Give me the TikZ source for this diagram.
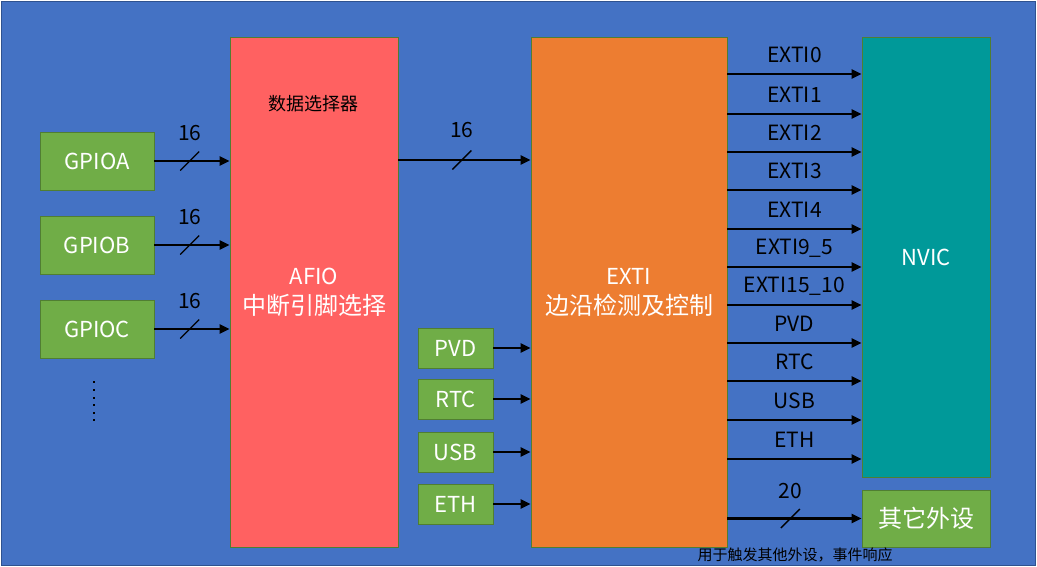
\documentclass[tikz,border=0pt]{standalone}
\usepackage{fontspec}
\setmainfont{Noto Sans CJK SC}
\usetikzlibrary{arrows.meta,calc}
\definecolor{bgblue}{HTML}{4472C4}
\definecolor{bgedge}{HTML}{2F528F}
\definecolor{boxgreen}{HTML}{70AD47}
\definecolor{edgegreen}{HTML}{507E32}
\definecolor{afiored}{HTML}{FF6161}
\definecolor{extiorange}{HTML}{ED7D31}
\definecolor{nvicteal}{HTML}{009999}
\newcommand{\fs}[1]{\fontsize{#1}{#1}\selectfont}
\begin{document}
\begin{tikzpicture}[x=1pt,y=-1pt,
  blk/.style={draw=edgegreen,line width=0.8pt,inner sep=0pt,text=white,align=center},
  gbox/.style={blk,fill=boxgreen,font=\fs{22}},
  arr/.style={line width=2.6pt,-{Triangle[length=10pt,width=9pt]},black},
  lab/.style={font=\fs{21},text=black,inner sep=0pt},
  slashline/.style={line width=1.4pt,black}]
\useasboundingbox (0,0) rectangle (1037,567);
\fill[bgblue,draw=bgedge,line width=1pt] (1.5,1.5) rectangle (1035.5,565.5);

% boxes
\node[gbox,minimum width=114pt,minimum height=58pt] (gA) at (97,161) {GPIOA};
\node[gbox,minimum width=114pt,minimum height=58pt] (gB) at (97,245) {GPIOB};
\node[gbox,minimum width=114pt,minimum height=58pt] (gC) at (97,329) {GPIOC};
\node[blk,fill=afiored,minimum width=168pt,minimum height=510pt,font=\fontsize{22}{30}\selectfont] (afio) at (314,292) {AFIO\\\fontsize{24}{30}\selectfont 中断引脚选择};
\node[blk,fill=extiorange,minimum width=196pt,minimum height=510pt,font=\fontsize{22}{30}\selectfont] (exti) at (629,292) {EXTI\\\fontsize{24}{30}\selectfont 边沿检测及控制};
\node[blk,fill=nvicteal,minimum width=128pt,minimum height=440pt,font=\fs{22}] (nvic) at (926,257) {NVIC};
\node[gbox,minimum width=128pt,minimum height=57pt,font=\fs{24}] (other) at (926,518.5) {其它外设};
\node[gbox,minimum width=75pt,minimum height=40pt] (pvd) at (455.5,348) {PVD};
\node[gbox,minimum width=75pt,minimum height=40pt] (rtc) at (455.5,399) {RTC};
\node[gbox,minimum width=75pt,minimum height=40pt] (usb) at (455.5,452) {USB};
\node[gbox,minimum width=75pt,minimum height=40pt] (eth) at (455.5,504) {ETH};

\node[font=\fs{18},text=black] (sel) at (313,104) {数据选择器};
\node[font=\fs{15},text=black,inner sep=0pt] (note) at (795,555) {用于触发其他外设，事件响应};

% GPIO arrows with bus slashes
\foreach \g/\s in {gA/sA,gB/sB,gC/sC}{
  \draw[arr] (\g.east) -- (\g.east -| afio.west) coordinate[pos=0.47] (\s);
  \draw[slashline] ($(\s)+(-9.5,9.5)$) -- ($(\s)+(9.5,-9.5)$);
  \node[lab] at ($(\s)+(0,-28)$) {16};
}
% AFIO -> EXTI
\coordinate (ae) at (afio.east |- 0,160);
\draw[arr] (ae) -- (ae -| exti.west) coordinate[pos=0.48] (sD);
\draw[slashline] ($(sD)+(-9.5,9.5)$) -- ($(sD)+(9.5,-9.5)$);
\node[lab] at ($(sD)+(0,-30)$) {16};

% peripheral inputs
\foreach \p in {pvd,rtc,usb,eth}{
  \draw[arr] (\p.east) -- (\p.east -| exti.west);
}

% EXTI -> NVIC lines
\foreach \y/\t in {74/EXTI0,114/EXTI1,152/EXTI2,190/EXTI3,229/EXTI4,267/EXTI9\_5,305/EXTI15\_10,343/PVD,381/RTC,420/USB,459/ETH}{
  \coordinate (o\y) at (exti.east |- 0,\y);
  \draw[arr] (o\y) -- (o\y -| nvic.west) coordinate[pos=0.5] (m\y);
  \node[lab] at ($(m\y)+(0,-19)$) {\t};
}
% EXTI -> other peripherals
\coordinate (oo) at (exti.east |- other.west);
\draw[arr] (oo) -- (other.west) coordinate[pos=0.47] (sE);
\draw[slashline] ($(sE)+(-9.5,9.5)$) -- ($(sE)+(9.5,-9.5)$);
\node[lab] at ($(sE)+(0,-27)$) {20};

% dots
\foreach \y in {382,390,398,405,413,420}{
  \fill[black] (93,\y-1.2) rectangle (95.4,\y+1.2);
}
\end{tikzpicture}
\end{document}
